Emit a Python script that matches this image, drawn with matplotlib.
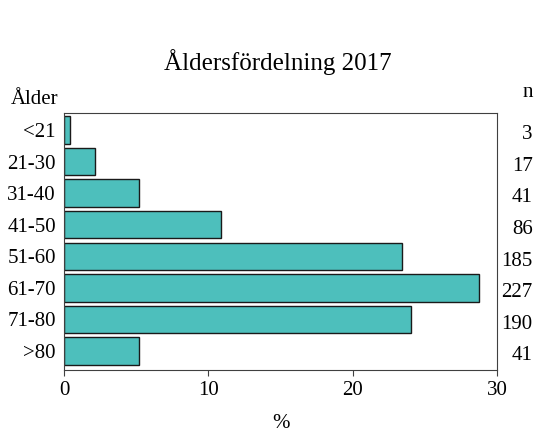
import matplotlib
matplotlib.use("Agg")
import matplotlib.pyplot as plt

plt.rcParams['font.family'] = ['Liberation Serif', 'DejaVu Serif']

aldrar = ['<21', '21-30', '31-40', '41-50', '51-60', '61-70', '71-80', '>80']
antal = [3, 17, 41, 86, 185, 227, 190, 41]
procent = [0.38, 2.15, 5.19, 10.89, 23.42, 28.73, 24.05, 5.19]

fig = plt.figure(figsize=(5.53, 4.42), dpi=100)
ax = fig.add_axes([0.116, 0.163, 0.783, 0.582])

pos = range(len(aldrar))
ax.barh(pos, procent, height=0.87, color='#4DBFBC', edgecolor='#1a1a1a', linewidth=1)
ax.set_ylim(7.6, -0.55)
ax.set_xlim(0, 30)
ax.set_xticks([0, 10, 20, 30])
ax.set_yticks(list(pos))
ax.set_yticklabels(aldrar)
ax.tick_params(axis='y', length=0, pad=6, labelsize=15)
ax.tick_params(axis='x', length=4, pad=4, labelsize=15, color='#404040')
for s in ax.spines.values():
    s.set_color('#404040')

for i, n in enumerate(antal):
    ax.text(1.082, i + 0.15, str(n), transform=ax.get_yaxis_transform(),
            ha='right', va='center', fontsize=15)

ax.set_xlabel('%', fontsize=15, labelpad=10)
fig.text(0.503, 0.86, 'Åldersfördelning 2017', ha='center', va='center', fontsize=18)
fig.text(0.02, 0.775, 'Ålder', ha='left', va='center', fontsize=15)
fig.text(0.955, 0.79, 'n', ha='center', va='center', fontsize=15)

fig.savefig('out.png', dpi=100)
